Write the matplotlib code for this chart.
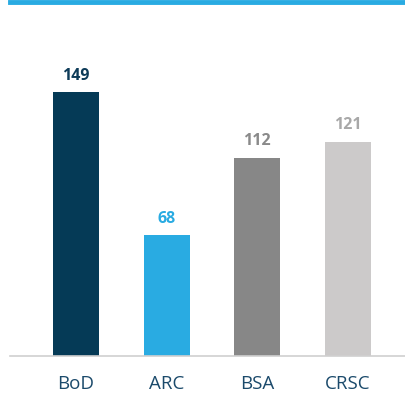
import matplotlib
matplotlib.use("Agg")
import matplotlib.pyplot as plt
from matplotlib.lines import Line2D

categories = ["BoD", "ARC", "BSA", "CRSC"]
values = [149, 68, 112, 121]
colors = ["#053a56", "#29abe2", "#878787", "#cccaca"]
label_colors = ["#0d3b58", "#29abe2", "#8a8a8a", "#a8a8a8"]

plt.rcParams["font.family"] = ["Open Sans", "DejaVu Sans"]

fig = plt.figure(figsize=(4.05, 4.01), dpi=100)
ax = fig.add_axes([10 / 405, 45 / 401, 395 / 405, 336 / 401])

x = list(range(len(categories)))
ax.bar(x, values, width=0.507, color=colors)
for xi, v, c in zip(x, values, label_colors):
    ax.annotate(str(v), (xi, v), xytext=(0, 6), textcoords="offset points",
                ha="center", va="bottom", fontsize=11.5, fontweight="bold", color=c)

ax.set_xlim(-0.728, 3.629)
ax.set_ylim(0, 189.6)
ax.set_xticks(x)
ax.set_xticklabels(categories, fontsize=13.5, color="#1b4a6b")
ax.tick_params(axis="x", length=0, pad=14)
ax.set_yticks([])
for s in ["top", "right", "left"]:
    ax.spines[s].set_visible(False)
ax.spines["bottom"].set_color("#d0d0d0")
ax.spines["bottom"].set_linewidth(1.2)

# blue rule across the top
fig.add_artist(Line2D([10 / 405, 1], [1 - 2 / 401, 1 - 2 / 401],
                      transform=fig.transFigure, color="#29abe2", lw=3.5))

fig.savefig("out.png", dpi=100)
